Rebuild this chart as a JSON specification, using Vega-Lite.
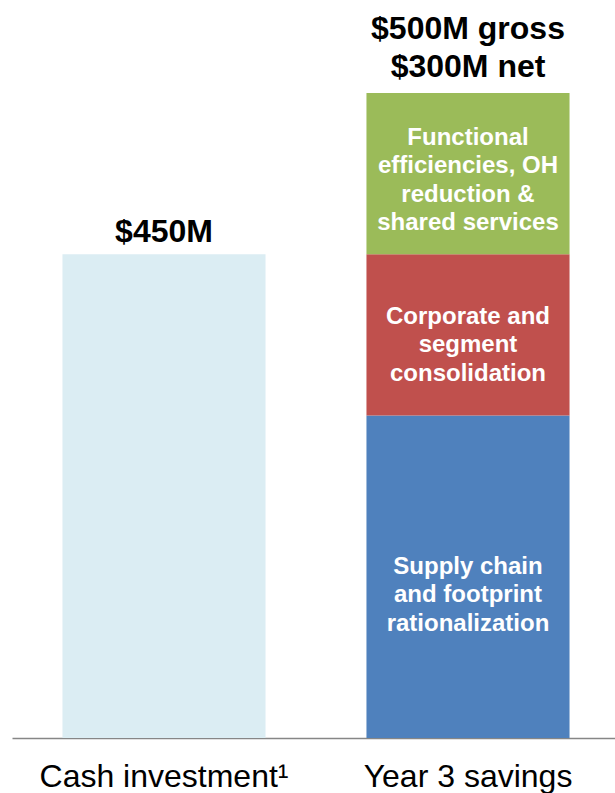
{
  "$schema": "https://vega.github.io/schema/vega-lite/v6.json",
  "width": 608,
  "height": 645,
  "autosize": "none",
  "padding": {"left": 12, "top": 93, "right": 0, "bottom": 55},
  "background": "white",
  "config": {"view": {"stroke": null}, "font": "Liberation Sans"},
  "datasets": {
    "bars": [
      {"cat": "Cash investment", "seg": "Cash", "v": 450, "ord": 0, "label": ""},
      {"cat": "Year 3 savings", "seg": "Supply chain", "v": 300, "ord": 1, "label": "Supply chain\nand footprint\nrationalization"},
      {"cat": "Year 3 savings", "seg": "Corporate", "v": 150, "ord": 2, "label": "Corporate and\nsegment\nconsolidation"},
      {"cat": "Year 3 savings", "seg": "Functional", "v": 150, "ord": 3, "label": "Functional\nefficiencies,  OH\nreduction &\nshared services"}
    ],
    "totals": [
      {"cat": "Cash investment", "total": 450, "text": "$450M"},
      {"cat": "Year 3 savings", "total": 600, "text": "$500M gross\n$300M net"}
    ]
  },
  "encoding": {
    "x": {
      "field": "cat",
      "type": "nominal",
      "sort": ["Cash investment", "Year 3 savings"],
      "scale": {"paddingInner": 0.332, "paddingOuter": 0.166},
      "axis": {
        "title": null,
        "labelAngle": 0,
        "ticks": false,
        "domainColor": "#868686",
        "domainWidth": 1.5,
        "labelFontSize": 32,
        "labelColor": "black",
        "labelPadding": 23,
        "labelLimit": 0,
        "labelExpr": "datum.value == 'Cash investment' ? 'Cash investment¹' : datum.value"
      }
    }
  },
  "layer": [
    {
      "data": {"name": "bars"},
      "mark": {"type": "bar"},
      "encoding": {
        "y": {"field": "v", "type": "quantitative", "stack": "zero", "scale": {"domain": [0, 600]}, "axis": null},
        "order": {"field": "ord", "type": "quantitative"},
        "color": {
          "field": "seg",
          "type": "nominal",
          "scale": {"domain": ["Cash", "Supply chain", "Corporate", "Functional"], "range": ["#DBEDF3", "#4F81BD", "#C0504D", "#9BBB59"]},
          "legend": null
        }
      }
    },
    {
      "data": {"name": "bars"},
      "transform": [
        {"filter": "datum.seg != 'Cash'"},
        {"stack": "v", "groupby": ["cat"], "sort": [{"field": "ord"}], "as": ["v0", "v1"]},
        {"calculate": "(datum.v0 + datum.v1) / 2", "as": "mid"}
      ],
      "layer": [
        {
          "transform": [{"filter": "datum.seg == 'Supply chain'"}],
          "mark": {"type": "text", "color": "white", "fontWeight": "bold", "fontSize": 24, "lineHeight": 28.5, "lineBreak": "\n", "baseline": "middle", "align": "center", "dy": -10},
          "encoding": {"y": {"field": "mid", "type": "quantitative", "scale": {"domain": [0, 600]}, "axis": null}, "text": {"field": "label"}}
        },
        {
          "transform": [{"filter": "datum.seg == 'Corporate'"}],
          "mark": {"type": "text", "color": "white", "fontWeight": "bold", "fontSize": 24, "lineHeight": 28.5, "lineBreak": "\n", "baseline": "middle", "align": "center", "dy": -18},
          "encoding": {"y": {"field": "mid", "type": "quantitative", "scale": {"domain": [0, 600]}, "axis": null}, "text": {"field": "label"}}
        },
        {
          "transform": [{"filter": "datum.seg == 'Functional'"}],
          "mark": {"type": "text", "color": "white", "fontWeight": "bold", "fontSize": 24, "lineHeight": 28.5, "lineBreak": "\n", "baseline": "middle", "align": "center", "dy": -36},
          "encoding": {"y": {"field": "mid", "type": "quantitative", "scale": {"domain": [0, 600]}, "axis": null}, "text": {"field": "label"}}
        }
      ]
    },
    {
      "data": {"name": "totals"},
      "layer": [
        {
          "transform": [{"filter": "datum.total < 500"}],
          "mark": {"type": "text", "color": "black", "fontWeight": "bold", "fontSize": 32, "lineHeight": 38, "lineBreak": "\n", "baseline": "alphabetic", "align": "center", "dy": -12},
          "encoding": {
            "y": {"field": "total", "type": "quantitative", "scale": {"domain": [0, 600]}, "axis": null},
            "text": {"field": "text"}
          }
        },
        {
          "transform": [{"filter": "datum.total >= 500"}],
          "mark": {"type": "text", "color": "black", "fontWeight": "bold", "fontSize": 32, "lineHeight": 38, "lineBreak": "\n", "baseline": "alphabetic", "align": "center", "dy": -54},
          "encoding": {
            "y": {"field": "total", "type": "quantitative", "scale": {"domain": [0, 600]}, "axis": null},
            "text": {"field": "text"}
          }
        }
      ]
    }
  ]
}
